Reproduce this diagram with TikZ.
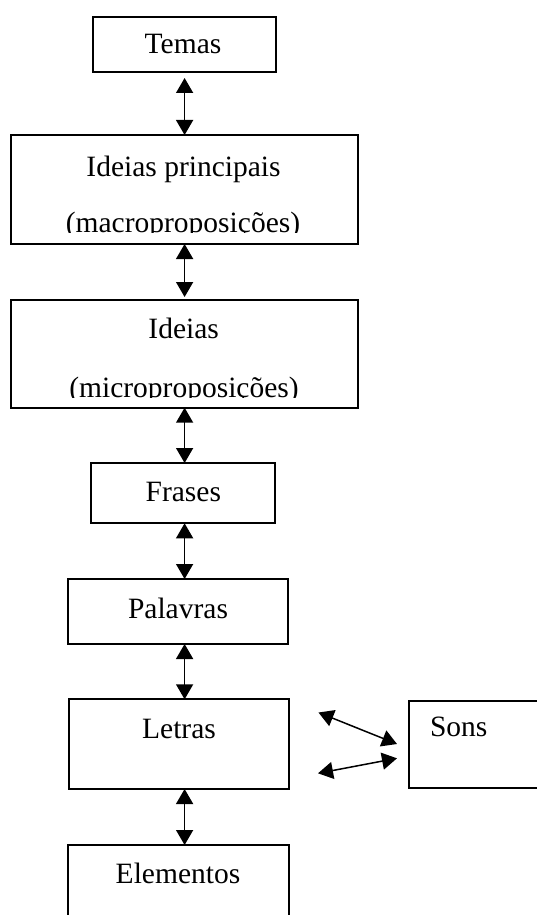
\documentclass[tikz,border=0pt]{standalone}
\usepackage{fontspec}
\setmainfont{Liberation Serif}
\usetikzlibrary{arrows.meta}

\tikzset{
  box/.style={draw=black, line width=1.9pt, rectangle, inner sep=0pt, outer sep=0pt,
              anchor=north west},
  lbl/.style={inner sep=0pt, outer sep=0pt, font=\fontsize{29.5}{35}\selectfont},
  link/.style={line width=1.5pt,
               {Triangle[length=15pt,width=17pt]}-{Triangle[length=15pt,width=17pt]}}
}

\begin{document}
\begin{tikzpicture}[x=1pt,y=-1pt]
  \useasboundingbox (0,0) rectangle (537,915);
  \fill[white] (0,0) rectangle (537,915);

  % levels of the hierarchy
  \node[box, minimum width=183pt, minimum height=55pt]   (temas)    at (93,17)    {};
  \node[box, minimum width=347pt, minimum height=109pt]  (macro)    at (11,135)   {};
  \node[box, minimum width=347pt, minimum height=107.7pt](micro)    at (11,300)   {};
  \node[box, minimum width=184pt, minimum height=60.3pt] (frases)   at (91,463)   {};
  \node[box, minimum width=220pt, minimum height=65pt]   (palavras) at (68,579)   {};
  \node[box, minimum width=220pt, minimum height=89.7pt] (letras)   at (69,699.3) {};
  \node[box, minimum width=160pt, minimum height=86.7pt] (sons)     at (409,701)  {};
  \node[box, minimum width=221pt, minimum height=100pt]  (elementos) at (68,845)  {};

  % labels
  \node[lbl, anchor=base] (temas-t)    at (183,54)    {Temas};
  \node[lbl, anchor=base] (macro-t1)   at (183.5,176) {Ideias principais};
  \begin{scope}
    \clip (11,135) rectangle (358,232.3);
    \node[lbl, anchor=base] (macro-t2) at (183,232)   {(macroproposições)};
  \end{scope}
  \node[lbl, anchor=base] (micro-t1)   at (183.7,338.3) {Ideias};
  \begin{scope}
    \clip (11,300) rectangle (358,397.3);
    \node[lbl, anchor=base] (micro-t2) at (184,397)   {(microproposições)};
  \end{scope}
  \node[lbl, anchor=base] (frases-t)   at (183.3,501.7) {Frases};
  \node[lbl, anchor=base] (palavras-t) at (178,618.3)   {Palavras};
  \node[lbl, anchor=base] (letras-t)   at (179,738.3)   {Letras};
  \node[lbl, anchor=base west] (sons-t) at (430,736.7)  {Sons};
  \node[lbl, anchor=base] (elementos-t) at (178,883.3)  {Elementos};

  % vertical axis of the two-way links
  \coordinate (ax) at (184.6,0);

  \draw[link, shorten <=6pt] (temas.south -| ax) -- (macro.north -| ax);
  \draw[link] (macro.south -| ax)    -- ([yshift=3pt]micro.north -| ax);
  \draw[link] (micro.south -| ax)    -- (frases.north -| ax);
  \draw[link] (frases.south -| ax)   -- (palavras.north -| ax);
  \draw[link] (palavras.south -| ax) -- (letras.north -| ax);
  \draw[link] (letras.south -| ax)   -- (elementos.north -| ax);

  % links between letters and sounds
  \coordinate (l1) at (318.5,712.5);
  \coordinate (s1) at (397,744);
  \coordinate (l2) at (318,773.3);
  \coordinate (s2) at (397,758.3);
  \draw[link] (l1) -- (s1);
  \draw[link] (l2) -- (s2);
\end{tikzpicture}
\end{document}
